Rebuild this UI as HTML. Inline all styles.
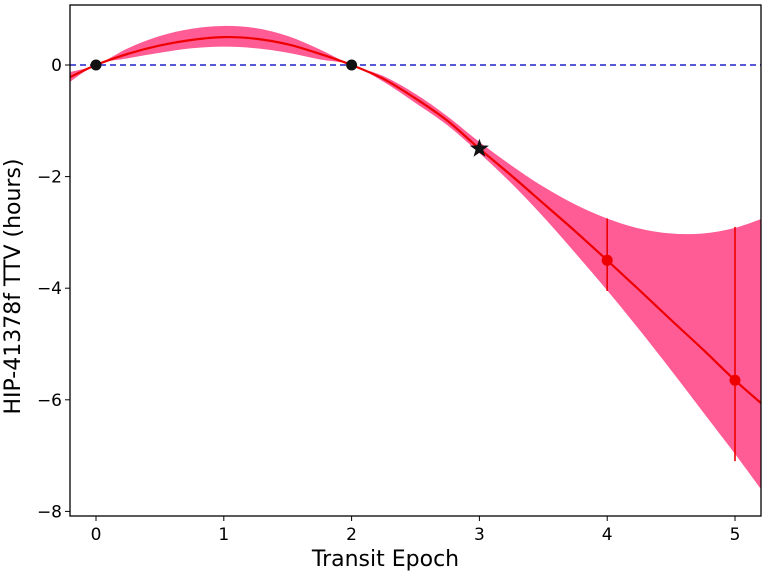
<!DOCTYPE html>
<html><head><meta charset="utf-8"><style>
body{margin:0;background:#fff}
svg{display:block;font-family:"DejaVu Sans","Liberation Sans",sans-serif}
</style></head><body>
<svg id="c" width="764" height="576" xmlns="http://www.w3.org/2000/svg">
<defs><clipPath id="clip"><rect x="70" y="5" width="691" height="511"/></clipPath></defs>
</svg>
<script>
const gridX=[-0.25,0,0.25,0.5,0.75,1,1.25,1.5,1.75,2,2.25,2.5,2.75,3,3.25,3.5,3.75,4,4.25,4.5,4.75,5,5.25];
const meanY=[-0.27,0,0.2,0.35,0.45,0.5,0.47,0.37,0.2,0,-0.25,-0.6,-1.0,-1.5,-1.98,-2.48,-2.98,-3.5,-4.03,-4.57,-5.1,-5.65,-6.15];
const upperY=[-0.15,0,0.3,0.52,0.65,0.7,0.66,0.52,0.28,0,-0.2,-0.52,-0.92,-1.38,-1.8,-2.18,-2.5,-2.75,-2.93,-3.02,-3.02,-2.92,-2.72];
const lowerY=[-0.38,0,0.12,0.22,0.3,0.33,0.3,0.22,0.1,0,-0.3,-0.68,-1.08,-1.58,-2.12,-2.72,-3.37,-4.04,-4.74,-5.47,-6.22,-6.97,-7.75];
const obsX=[0,2];const obsY=[0,0];
const starX=[3];const starY=[-1.5];
const predX=[4,5];const predY=[-3.5,-5.65];const predHi=[-2.75,-2.9];const predLo=[-4.05,-7.1];
const xTicks=[0,1,2,3,4,5];const yTicks=[0,-2,-4,-6,-8];
const yTickLabels=["0","\u22122","\u22124","\u22126","\u22128"];

const L=70,R=761,T=5,B=516;
const X=v=>96+(v)*127.8;
const Y=v=>65-v*55.8;
const svg=document.getElementById('c');
const NS='http://www.w3.org/2000/svg';
function mk(t,a,p){const e=document.createElementNS(NS,t);for(const k in a)e.setAttribute(k,a[k]);(p||svg).appendChild(e);return e;}
function smooth(pts){
 let s='';
 for(let i=0;i<pts.length-1;i++){
  const p0=pts[Math.max(i-1,0)],p1=pts[i],p2=pts[i+1],p3=pts[Math.min(i+2,pts.length-1)];
  const c1=[p1[0]+(p2[0]-p0[0])/6,p1[1]+(p2[1]-p0[1])/6];
  const c2=[p2[0]-(p3[0]-p1[0])/6,p2[1]-(p3[1]-p1[1])/6];
  s+=' C'+c1+' '+c2+' '+p2;
 }
 return s;
}
const g=mk('g',{'clip-path':'url(#clip)'});


const up=gridX.map((x,i)=>[X(x),Y(upperY[i])]);
const lo=gridX.map((x,i)=>[X(x),Y(lowerY[i])]).reverse();
const d='M'+up[0]+smooth(up)+' L'+lo[0]+smooth(lo)+'Z';
const band=mk('path',{d:d,fill:'#ff5b94'},g);


const zl=mk('line',{x1:L,x2:R,y1:Y(0),y2:Y(0),stroke:'#2222cc','stroke-width':1.6,'stroke-dasharray':'6,4'},g);


const mp=gridX.map((x,i)=>[X(x),Y(meanY[i])]);
const ml=mk('path',{d:'M'+mp[0]+smooth(mp),fill:'none',stroke:'#ee0000','stroke-width':2.2},g);


predX.forEach((x,i)=>{
 const e=mk('line',{x1:X(x),x2:X(x),y1:Y(predHi[i]),y2:Y(predLo[i]),stroke:'#ee0000','stroke-width':1.6},g);
 
 
 const c=mk('circle',{cx:X(x),cy:Y(predY[i]),r:5.5,fill:'#ee0000'},g);
 
 
});
obsX.forEach((x,i)=>{
 const c=mk('circle',{cx:X(x),cy:Y(obsY[i]),r:5.5,fill:'#111'},g);
 
 
});
starX.forEach((x,i)=>{
 const cx=X(x),cy=Y(starY[i]);let p=[];
 for(let k=0;k<10;k++){const r=k%2?4:10,a=-Math.PI/2+k*Math.PI/5;p.push((cx+r*Math.cos(a))+','+(cy+r*Math.sin(a)));}
 const s=mk('polygon',{points:p.join(' '),fill:'#111'},g);
 
 
});
const fr=mk('rect',{x:L,y:T,width:R-L,height:B-T,fill:'none',stroke:'#000','stroke-width':1.3});


xTicks.forEach(v=>{
 mk('line',{x1:X(v),x2:X(v),y1:B,y2:B+5,stroke:'#000','stroke-width':1});
 const t=mk('text',{x:X(v),y:B+24,'text-anchor':'middle','font-size':17});t.textContent=v;
 
 
});
yTicks.forEach((v,i)=>{
 mk('line',{x1:L-5,x2:L,y1:Y(v),y2:Y(v),stroke:'#000','stroke-width':1});
 const t=mk('text',{x:L-8,y:Y(v)+6,'text-anchor':'end','font-size':17});t.textContent=yTickLabels[i];
 
 
});
const xt=mk('text',{x:(L+R)/2-30,y:566,'text-anchor':'middle','font-size':22});xt.textContent='Transit Epoch';


const yt=mk('text',{x:0,y:0,'text-anchor':'middle','font-size':22,transform:'translate(20,'+((T+B)/2+26)+') rotate(-90)'});yt.textContent='HIP-41378f TTV (hours)';


</script>
</body></html>
